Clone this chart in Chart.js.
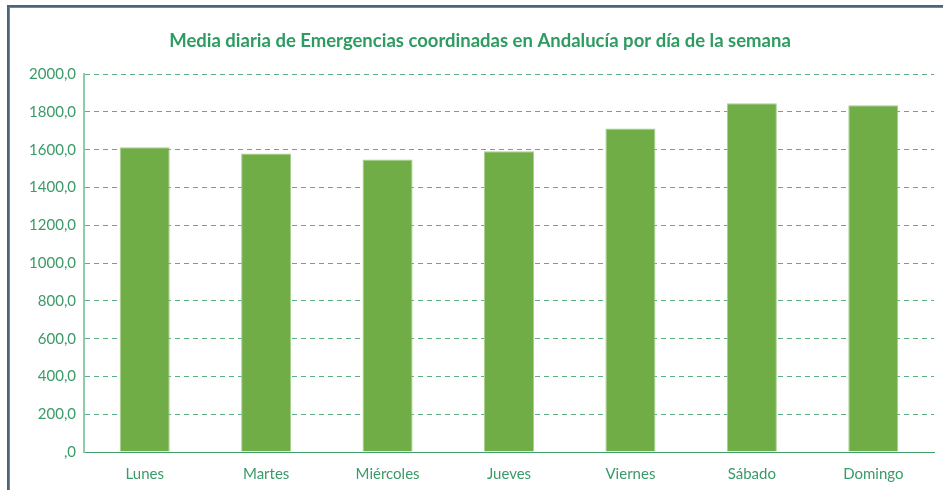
<!DOCTYPE html>
<html>
<head>
<meta charset="utf-8">
<script src="https://cdn.jsdelivr.net/npm/chart.js@4/dist/chart.umd.min.js"></script>
<style>
    html, body { margin: 0; padding: 0; background: #fff; }
    #wrap { position: relative; width: 943px; height: 490px; overflow: hidden; }
    #frame {
        position: absolute; left: 7px; top: 5px; width: 960px; height: 500px;
        border-top: 2px solid #4b6479; border-left: 2px solid #4b6479;
        box-shadow: inset 1px 1px 0 #5aa05a;
    }
    canvas { position: absolute; left: 0; top: 0; }
</style>
</head>
<body>
<div id="wrap">
    <div id="frame"></div>
    <canvas id="chart" width="943" height="490"></canvas>
</div>
<script>
    'use strict';

    const title = 'Media diaria de Emergencias coordinadas en Andalucía por día de la semana';
    const days = ['Lunes', 'Martes', 'Miércoles', 'Jueves', 'Viernes', 'Sábado', 'Domingo'];
    const dailyMeans = [1613, 1580, 1548, 1592, 1713, 1846, 1836];
    const yTickLabels = [',0', '200,0', '400,0', '600,0', '800,0', '1000,0', '1200,0', '1400,0', '1600,0', '1800,0', '2000,0'];

    const TEXT_GREEN = '#3a9a68';
    const FONT = 'Lato, "Open Sans", sans-serif';

    const ctx = document.getElementById('chart');

    new Chart(ctx.getContext('2d'), {
        type: 'bar',
        data: {
            labels: days,
            datasets: [{
                data: dailyMeans,
                backgroundColor: '#70ad47',
                borderColor: '#a9d08e',
                borderWidth: 1,
                categoryPercentage: 1,
                barPercentage: 0.412
            }]
        },
        options: {
            responsive: false,
            animation: false,
            // left padding keeps the title centred where the original sits
            layout: { padding: { left: 26, right: 9, top: 0, bottom: 0 } },
            plugins: {
                legend: { display: false },
                tooltip: { enabled: false },
                title: {
                    display: true,
                    text: title,
                    color: '#2e9b62',
                    font: { family: FONT, size: 18.5, weight: 'bold' },
                    padding: { top: 30, bottom: 22 }
                }
            },
            scales: {
                x: {
                    grid: { display: false, drawTicks: false },
                    border: { display: true, color: '#3fa06a', width: 1 },
                    ticks: { color: TEXT_GREEN, font: { family: FONT, size: 15 }, padding: 13 },
                    afterFit: s => { s.height = 38; }
                },
                y: {
                    min: 0,
                    max: 2000,
                    grid: { color: '#5aaf84', lineWidth: 1, drawTicks: false },
                    border: { display: true, color: '#8fcba9', width: 2, dash: [5, 4] },
                    ticks: {
                        stepSize: 200,
                        color: TEXT_GREEN,
                        font: { family: FONT, size: 15 },
                        padding: 8,
                        callback: v => yTickLabels[Math.round(v / 200)]
                    },
                    afterFit: s => { s.width = 58; }
                }
            }
        }
    });
</script>
</body>
</html>
